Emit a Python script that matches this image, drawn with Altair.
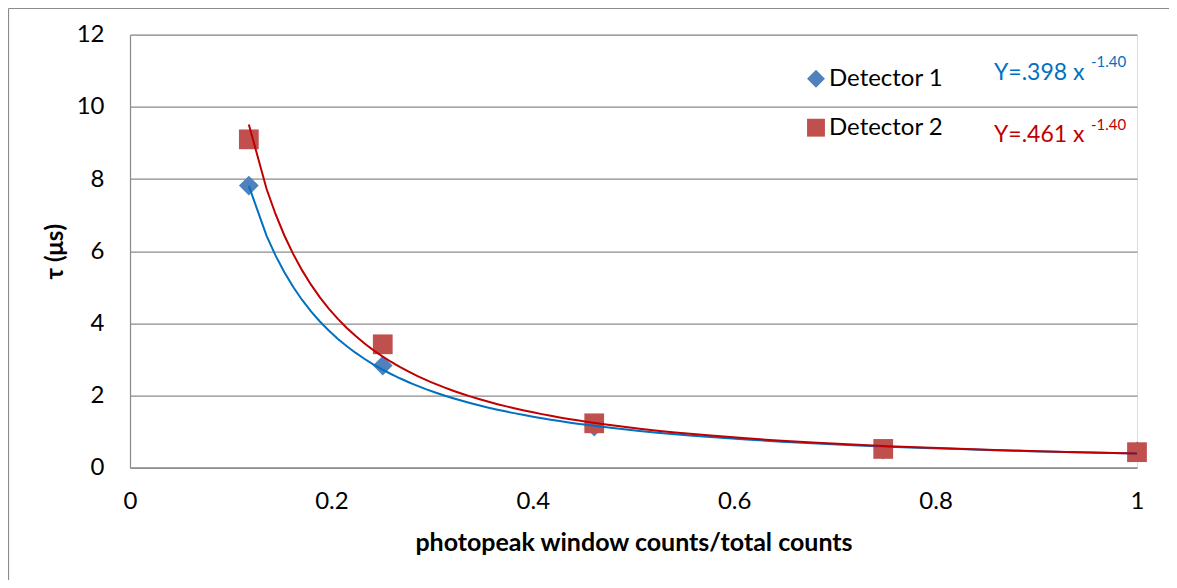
import altair as alt
import pandas as pd

# ---- data ----
detectors = ["Detector 1", "Detector 2"]
x_vals = [0.118, 0.251, 0.461, 0.748, 1.0]
det1_tau = [7.82, 2.83, 1.14, 0.50, 0.45]
det2_tau = [9.10, 3.42, 1.23, 0.52, 0.43]
eq_main = ["Y=.398 x", "Y=.461 x"]
eq_sup = ["-1.40", "-1.40"]
x_ticks = [0, 0.2, 0.4, 0.6, 0.8, 1.0]
y_ticks = [0, 2, 4, 6, 8, 10, 12]

marker_colors = ["#4F81BD", "#C0504D"]
trend_colors = ["#0070C0", "#C00000"]
shapes = ["diamond", "square"]

rows = []
for d, ys in zip(detectors, [det1_tau, det2_tau]):
    for xv, yv in zip(x_vals, ys):
        rows.append({"detector": d, "x": xv, "tau": yv})
df = pd.DataFrame(rows)

FONT = "Lato"
GRID = "#8a8a8a"

xenc = alt.X("x:Q", scale=alt.Scale(domain=[0, 1]),
             axis=alt.Axis(values=x_ticks, format="~g", grid=False, ticks=False, tickSize=0,
                           domainColor=GRID, domainWidth=1.2, labelPadding=22,
                           labelFontSize=24, labelFont=FONT, labelColor="black",
                           title="photopeak window counts/total counts",
                           titleFont=FONT, titleFontSize=25, titleFontWeight="bold",
                           titleColor="black", titleX=503.5, titleY=75,
                           titleBaseline="middle", titleAlign="center", labelFlush=False))
yenc = alt.Y("tau:Q", scale=alt.Scale(domain=[0, 12]),
             axis=alt.Axis(values=y_ticks, grid=True, gridColor=GRID, gridWidth=1.2,
                           ticks=False, tickSize=0, domainColor=GRID, domainWidth=1.2,
                           labelPadding=26, labelFontSize=24, labelFont=FONT,
                           labelColor="black", title="τ (μs)", titleFont=FONT,
                           titleFontSize=24, titleFontWeight="bold", titleColor="black",
                           titleX=-75, titleY=216.5, titleAngle=270,
                           titleBaseline="middle", titleAlign="center"))

legend = alt.Legend(title=None, orient="none", legendX=674, legendY=32,
                    labelFont=FONT, labelFontSize=24, labelColor="black",
                    symbolSize=320, symbolOpacity=1, rowPadding=25,
                    labelOffset=1, padding=0)

base = alt.Chart(df)

points = base.mark_point(filled=True, opacity=1, size=390).encode(
    x=xenc, y=yenc,
    color=alt.Color("detector:N", scale=alt.Scale(domain=detectors, range=marker_colors),
                    legend=legend),
    shape=alt.Shape("detector:N", scale=alt.Scale(domain=detectors, range=shapes),
                    legend=legend),
    order=alt.Order("detector:N"),
)

layers = [points]

for i, d in enumerate(detectors):
    layers.append(
        base.transform_filter(alt.datum.detector == d)
        .transform_regression("x", "tau", method="pow")
        .mark_line(strokeWidth=2, color=trend_colors[i])
        .encode(x="x:Q", y="tau:Q")
    )

# equation annotations
eq_pos = [(864, 45), (864, 107)]
sup_pos = [(961, 32), (961, 95)]
for i in range(2):
    layers.append(
        alt.Chart(pd.DataFrame({"t": [eq_main[i]]})).mark_text(
            font=FONT, fontSize=23, color=trend_colors[i], align="left", baseline="alphabetic"
        ).encode(x=alt.value(eq_pos[i][0]), y=alt.value(eq_pos[i][1]), text="t:N")
    )
    layers.append(
        alt.Chart(pd.DataFrame({"t": [eq_sup[i]]})).mark_text(
            font=FONT, fontSize=15, color=trend_colors[i], align="left", baseline="alphabetic"
        ).encode(x=alt.value(sup_pos[i][0]), y=alt.value(sup_pos[i][1]), text="t:N")
    )

# outer frame (top and left edges visible)
frame_df = pd.DataFrame({"k": [0]})
layers.append(alt.Chart(frame_df).mark_rule(color="#8c8c8c", strokeWidth=1.2).encode(
    x=alt.value(-121.5), x2=alt.value(1200), y=alt.value(-26.2)))
layers.append(alt.Chart(frame_df).mark_rule(color="#8c8c8c", strokeWidth=1.2).encode(
    x=alt.value(-121.5), y=alt.value(-26.2), y2=alt.value(700)))

chart = alt.layer(*layers).properties(
    width=1007, height=433,
    autosize=alt.AutoSizeParams(type="none"),
    padding={"left": 122, "top": 26.7, "right": 32, "bottom": 112},
).configure_view(stroke=None).configure(background="white")

chart.save("out.html", embed_options={"renderer": "svg", "actions": False})
